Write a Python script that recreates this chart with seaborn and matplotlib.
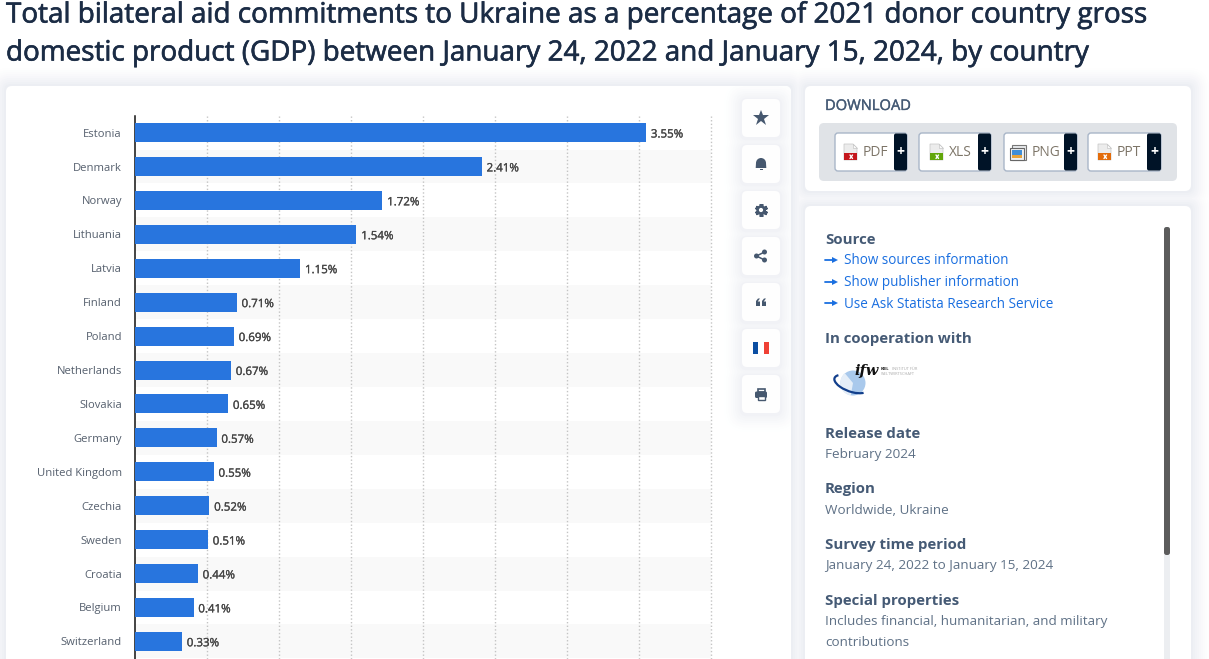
import matplotlib
matplotlib.use("Agg")
import matplotlib.pyplot as plt
import matplotlib.patheffects as pe
from matplotlib.colors import to_rgb
from matplotlib.patches import FancyBboxPatch, Rectangle, Circle, Polygon, Wedge, Arc
import pandas as pd
import seaborn as sns

countries = ["Estonia", "Denmark", "Norway", "Lithuania", "Latvia", "Finland", "Poland",
             "Netherlands", "Slovakia", "Germany", "United Kingdom", "Czechia", "Sweden",
             "Croatia", "Belgium", "Switzerland"]
values = [3.55, 2.41, 1.72, 1.54, 1.15, 0.71, 0.69, 0.67, 0.65, 0.57, 0.55, 0.52, 0.51,
          0.44, 0.41, 0.33]
title_lines = ["Total bilateral aid commitments to Ukraine as a percentage of 2021 donor country gross",
               "domestic product (GDP) between January 24, 2022 and January 15, 2024, by country"]
download_items = ["PDF", "XLS", "PNG", "PPT"]
source_links = ["Show sources information", "Show publisher information", "Use Ask Statista Research Service"]
x_ticks = [0.5, 1.0, 1.5, 2.0, 2.5, 3.0, 3.5, 4.0]

W, H = 1209, 659
sns.set_theme(style="white")
plt.rcParams["font.family"] = ["Open Sans", "DejaVu Sans"]
plt.rcParams["patch.force_edgecolor"] = False
fig = plt.figure(figsize=(W / 100, H / 100), dpi=100, facecolor="white")

bg = fig.add_axes([0, 0, 1, 1], zorder=0)
bg.set_xlim(0, W); bg.set_ylim(H, 0); bg.axis("off")

HEAD = "#1b2c45"; SLATE = "#455a75"; GREY = "#5f7186"; LINK = "#1a6fe0"; ic = "#46586f"

def box(x, y, w, h, r=5, fc="white", ec="none", lw=0, z=2):
    p = FancyBboxPatch((x, y), w, h, boxstyle=f"round,pad=0,rounding_size={r}",
                       fc=fc, ec=ec, lw=lw, zorder=z)
    bg.add_patch(p)
    return p

def shadow(x, y, w, h, edge, r=5, layers=10, step=2.0, dy=0, z=1.0, clip=None):
    # opaque rings from the outside in, so neighbouring shadows do not add up
    c0 = to_rgb(edge)
    for k in range(layers, 0, -1):
        t = ((layers - k + 1) / layers) ** 1.6
        col = tuple(1 + (c - 1) * t for c in c0)
        e = k * step
        p = box(x - e, y - e + dy, w + 2 * e, h + 2 * e, r=r + e, fc=col, z=z + (layers - k) * 0.01)
        if clip is not None:
            p.set_clip_path(clip)

cards = [(6, 86, 785, 600), (805, 86, 386, 105), (805, 206, 386, 480)]
for c in cards:
    shadow(*c, edge="#eceef3")
card_patches = [box(*c, r=6) for c in cards]

for i, line in enumerate(title_lines):
    bg.text(6, 15.5 + i * 38, line, fontsize=20.05, color=HEAD, va="center", ha="left", zorder=5,
            path_effects=[pe.withStroke(linewidth=0.45, foreground=HEAD)])

# side buttons
btn_y = [99, 145, 191, 237, 283, 329, 375]
for y in btn_y:
    shadow(742, y, 38, 38, edge="#f1f2f6", r=5, layers=8, step=2.2, dy=1, z=2.2, clip=card_patches[0])
for y in btn_y:
    box(742, y, 38, 38, r=5, fc="#fefefe", z=3)

bg.plot(761, 118, marker="*", ms=12, color=ic, mew=0, zorder=5)
bg.add_patch(Wedge((761, 163), 5, 180, 360, fc=ic, zorder=5))
bg.add_patch(Polygon([(756, 163), (766, 163), (766.3, 168), (755.7, 168)], fc=ic, zorder=5))
bg.add_patch(Rectangle((759.5, 169), 3, 1, fc=ic, zorder=5))
bg.plot(761, 210, marker=(6, 2, 0), ms=9.2, mew=2.6, color=ic, zorder=4.5)
bg.add_patch(Circle((761, 210), 4.7, fc=ic, zorder=5))
bg.add_patch(Circle((761, 210), 2.1, fc="white", zorder=5.5))
bg.plot([764.5, 756.5, 764.5], [252, 256, 260], color=ic, lw=1.1, zorder=5)
for cx, cy in [(764.5, 252), (756.5, 256), (764.5, 260)]:
    bg.add_patch(Circle((cx, cy), 2.5, fc=ic, zorder=5))
for qx in (756, 762):
    bg.add_patch(Polygon([(qx, 306), (qx + 4, 306), (qx + 4, 301.5), (qx + 1.7, 301.5), (qx + 4, 298.5),
                          (qx + 2, 298.5), (qx, 301)], fc=ic, zorder=5))
bg.add_patch(Rectangle((753, 342), 5.3, 12, fc="#0b4ea2", zorder=5))
bg.add_patch(Rectangle((758.3, 342), 5.3, 12, fc="white", zorder=5))
bg.add_patch(Rectangle((763.6, 342), 5.3, 12, fc="#ef4135", zorder=5))
box(755, 391.5, 12, 6.5, r=1.5, fc=ic, z=5)
bg.add_patch(Rectangle((757.5, 388.5), 7, 3.5, fc="none", ec=ic, lw=1.2, zorder=5))
bg.add_patch(Rectangle((757.5, 395.5), 7, 4.5, fc="white", ec=ic, lw=1, zorder=5.5))

# download panel
bg.text(825, 106.5, "DOWNLOAD", fontsize=10.6, color=SLATE, va="center", zorder=5,
        path_effects=[pe.withStroke(linewidth=0.25, foreground=SLATE)])
box(819, 123, 358, 58, r=5, fc="#e0e3e7", z=3)
btn_x = [(835, 907, 894), (919, 991, 978), (1004, 1077, 1064), (1088, 1161, 1147)]
file_cols = ["#c4161c", "#62a60a", "#e8a33a", "#e36c0a"]
text_x = [863, 949, 1032, 1117]
icon_x = [844, 930, 1010, 1098]
for (x0, x1, xp), name, col, tx, ix in zip(btn_x, download_items, file_cols, text_x, icon_x):
    box(x0, 133, x1 - x0, 38, r=3, fc="white", ec="#a9b6c8", lw=1, z=4)
    box(xp, 133.5, x1 - xp, 37, r=2, fc="#001327", z=4.5)
    bg.text((xp + x1) / 2, 151.5, "+", color="white", fontsize=10, fontweight="bold", ha="center", va="center", zorder=6)
    bg.text(tx, 152, name, color="#7d7568", fontsize=9.9, va="center", zorder=6)
    if name == "PNG":
        bg.add_patch(Rectangle((ix + 2, 145), 14, 14.5, fc="#e8eaec", ec="#777", lw=0.8, zorder=5))
        bg.add_patch(Rectangle((ix, 148), 13.5, 11.5, fc="#eef0f2", ec="#666", lw=0.8, zorder=5.2))
        bg.add_patch(Rectangle((ix + 2, 150), 9.5, 7.5, fc="#3f8ed8", zorder=5.5))
        bg.add_patch(Rectangle((ix + 2, 154.5), 9.5, 3, fc=col, zorder=5.6))
    else:
        bg.add_patch(Polygon([(ix, 144), (ix + 9, 144), (ix + 13, 148), (ix + 13, 160), (ix, 160)],
                             fc="#ececec", ec="#c4c4c4", lw=0.5, zorder=5))
        bg.add_patch(Polygon([(ix + 9, 144), (ix + 9, 148), (ix + 13, 148)], fc="#fafafa", ec="#bcbcbc", lw=0.4, zorder=5.1))
        bg.add_patch(Rectangle((ix, 153), 13, 7, fc=col, zorder=5.5))
        bg.plot([ix + 6, ix + 8.5], [158.5, 155], color="white", lw=1, zorder=5.7)
        bg.plot([ix + 6, ix + 8.5], [155, 158.5], color="white", lw=1, zorder=5.7)

# info panel
bg.add_patch(Rectangle((1164, 227), 6, 432, fc="#eceef1", zorder=3))
box(1164, 227, 6, 328, r=2.5, fc="#5c5c5c", z=4)

def head(y, s):
    bg.text(825, y, s, fontsize=10.85, color=SLATE, fontweight="bold", va="center", zorder=5)

def body(y, s):
    bg.text(825, y, s, fontsize=9.7, color=GREY, va="center", zorder=5)

head(239.5, "Source")
for y, s in zip([261, 283, 304], source_links):
    bg.plot([825, 834], [y - 1.5, y - 1.5], color=LINK, lw=1.3, zorder=5)
    bg.plot(834.5, y - 1.5, marker=">", ms=4, color=LINK, mew=0, zorder=5)
    bg.text(844, y, s, fontsize=9.75, color=LINK, va="center", zorder=5)
head(338.5, "In cooperation with")
bg.add_patch(Circle((853, 383), 12.5, fc="#a9c9ec", zorder=4))
bg.add_patch(Wedge((853, 383), 12.8, 100, 230, fc="#e5eef8", zorder=4.2))
bg.add_patch(Arc((851, 384), 35, 15, angle=20, theta1=15, theta2=195, ec="#123f8c", lw=1.6, zorder=4.5))
bg.text(866.5, 370.5, "ifw", fontsize=10.5, fontweight="bold", style="italic", color="#111", ha="center", va="center",
        family="DejaVu Serif", zorder=6)
bg.text(880.5, 369, "KIEL", fontsize=2.9, fontweight="bold", color="#222", va="center", zorder=6)
bg.text(892, 369, "INSTITUT FÜR", fontsize=2.9, color="#aaa", va="center", zorder=6)
bg.text(880.5, 374, "WELTWIRTSCHAFT", fontsize=2.9, color="#aaa", va="center", zorder=6)
head(433.5, "Release date"); body(454.5, "February 2024")
head(488.5, "Region"); body(510, "Worldwide, Ukraine")
head(544.5, "Survey time period"); body(566, "January 24, 2022 to January 15, 2024")
head(600.5, "Special properties")
body(622, "Includes financial, humanitarian, and military"); body(643, "contributions")

# chart
ROW = 33.92
top = 132.6 - ROW / 2
ax_left, ax_right = 134.5, 711
ax = fig.add_axes([ax_left / W, 0, (ax_right - ax_left) / W, (H - top) / H], zorder=1)
ax.patch.set_alpha(0)
df = pd.DataFrame({"country": countries, "value": values})
sns.barplot(data=df, y="country", x="value", color="#2875de", saturation=1, width=0.56, ax=ax,
            zorder=3, orient="h", linewidth=0)
ax.set_xlim(0, 4)
ax.set_ylim((H - 132.6) / ROW, -0.5)
for i in range(1, len(countries), 2):
    ax.axhspan(i - 0.5, i + 0.5, fc="#f9f9f9", ec="none", zorder=0)
ax.set_xticks(x_ticks)
ax.tick_params(axis="x", length=0, labelbottom=False)
ax.tick_params(axis="y", length=0, pad=9, labelsize=8.15, labelcolor="#56606e")
ax.xaxis.grid(True, color="#c4c4c4", linestyle=(0, (1, 1.6)), linewidth=1, zorder=1)
for g in ax.get_xgridlines():
    g.set_clip_on(False)
ax.set_axisbelow(True)
ax.set_xlabel(""); ax.set_ylabel("")
for s in ("top", "right", "bottom"):
    ax.spines[s].set_visible(False)
ax.spines["left"].set_color("#111111"); ax.spines["left"].set_linewidth(1.1)
for i, v in enumerate(values):
    ax.annotate(f"{v:.2f}%", (v, i), xytext=(3.4, -1.0), textcoords="offset points", va="center", ha="left",
                fontsize=8.3, color="#454545", zorder=5,
                path_effects=[pe.withStroke(linewidth=0.2, foreground="#454545")])

fig.savefig("out.png", dpi=100, facecolor=fig.get_facecolor())
